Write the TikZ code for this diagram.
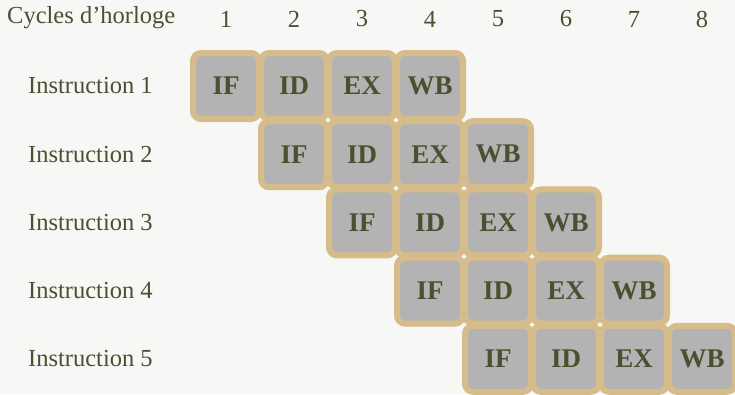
\documentclass[tikz,border=0pt]{standalone}
\usepackage{fontspec}
\setmainfont{Liberation Serif}
\definecolor{bgc}{HTML}{F7F7F5}
\definecolor{tanc}{HTML}{D7BC8B}
\definecolor{cellc}{HTML}{B3B3B3}
\definecolor{txtc}{HTML}{4A5030}
\tikzset{
  stagebox/.style={draw=tanc, fill=cellc, line width=6pt, rounded corners=8pt,
    minimum width=66pt, minimum height=66pt, inner sep=0pt, text=txtc,
    font=\bfseries\fontsize{27}{27}\selectfont},
  lbl/.style={text=txtc, font=\fontsize{24.5}{24.5}\selectfont, inner sep=0pt},
}
\begin{document}
\begin{tikzpicture}[x=1pt,y=-1pt]
\fill[bgc] (0,0) rectangle (735,394);
\useasboundingbox (0,0) rectangle (735,394);
\node[lbl, anchor=west] (hdr) at (7,18) {Cycles d’horloge};
\foreach \k in {1,...,8} {
  \node[lbl] (c\k) at ({226+68*(\k-1)},19) {\k};
}
\foreach \r in {1,...,5} {
  \node[lbl, anchor=west] (i\r) at (28,{86+68.2*(\r-1)}) {Instruction \r};
}
\foreach \r in {1,...,5} {
  \foreach \s [count=\j from 0] in {IF,ID,EX,WB} {
    \pgfmathtruncatemacro{\col}{\r+\j}
    \node[stagebox] (s\r-\j) at ({226+68*(\col-1)},{86+68.2*(\r-1)}) {\s};
  }
}
\end{tikzpicture}
\end{document}
